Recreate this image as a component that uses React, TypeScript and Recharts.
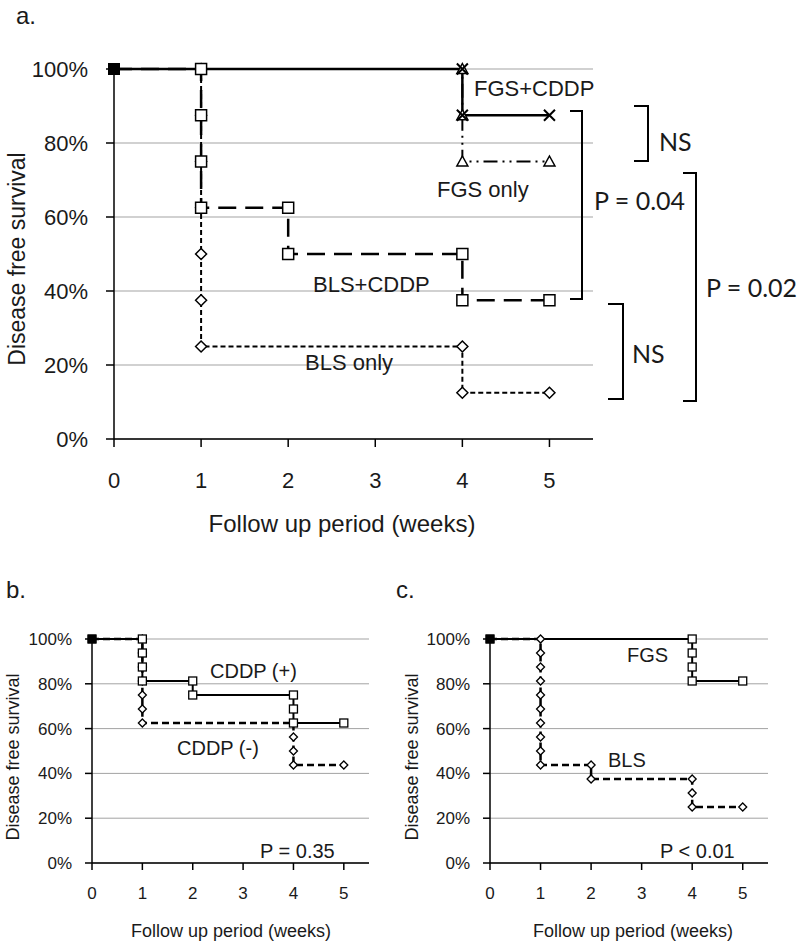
import React from 'react';
import { LineChart, Line, XAxis, YAxis, CartesianGrid } from 'recharts';

// ---------- Panel a data ----------
const weeksFgsCddp = [0, 4, 4, 5];
const survFgsCddp = [100, 100, 87.5, 87.5];
const weeksFgsOnly = [0, 4, 4, 4, 5];
const survFgsOnly = [100, 100, 87.5, 75, 75];
const weeksBlsCddp = [0, 1, 1, 1, 1, 2, 2, 4, 4, 5];
const survBlsCddp = [100, 100, 87.5, 75, 62.5, 62.5, 50, 50, 37.5, 37.5];
const weeksBlsOnly = [0, 1, 1, 1, 1, 1, 1, 1, 4, 4, 5];
const survBlsOnly = [100, 100, 87.5, 75, 62.5, 50, 37.5, 25, 25, 12.5, 12.5];

// ---------- Panel b data ----------
const weeksCddpPlus = [0, 1, 1, 1, 1, 2, 2, 4, 4, 4, 5];
const survCddpPlus = [100, 100, 93.75, 87.5, 81.25, 81.25, 75, 75, 68.75, 62.5, 62.5];
const weeksCddpMinus = [0, 1, 1, 1, 1, 1, 1, 1, 4, 4, 4, 4, 5];
const survCddpMinus = [100, 100, 93.75, 87.5, 81.25, 75, 68.75, 62.5, 62.5, 56.25, 50, 43.75, 43.75];

// ---------- Panel c data ----------
const weeksFgs = [0, 4, 4, 4, 4, 5];
const survFgs = [100, 100, 93.75, 87.5, 81.25, 81.25];
const weeksBls = [0, 1, 1, 1, 1, 1, 1, 1, 1, 1, 1, 2, 2, 4, 4, 4, 5];
const survBls = [100, 100, 93.75, 87.5, 81.25, 75, 68.75, 62.5, 56.25, 50, 43.75, 43.75, 37.5, 37.5, 31.25, 25, 25];

// ---------- Axes ----------
const xTicks = [0, 1, 2, 3, 4, 5];
const yTicks = [0, 20, 40, 60, 80, 100];
const xDomain: [number, number] = [0, 5.5];
const yDomain: [number, number] = [0, 100];

const ARIAL = '"Liberation Sans", Arial, sans-serif';
const CALIBRI = 'Lato, "Open Sans", sans-serif';
const INK = '#1a1a1a';

type MarkerKind = 'square' | 'diamond' | 'triangle' | 'cross';

interface Series {
  name: string;
  weeks: number[];
  surv: number[];
  dash?: string;
  width: number;
  marker: MarkerKind;
}

const toPoints = (w: number[], s: number[]) => w.map((x, i) => ({ w: x, s: s[i] }));

const makeDot = (kind: MarkerKind, size: number, sw: number) => (props: any) => {
  const { cx, cy, index, payload } = props;
  const key = `d-${index}`;
  if (cx == null || cy == null || isNaN(cx) || isNaN(cy)) return <g key={key} />;
  const h = size / 2;
  if (payload && payload.w === 0) {
    return <rect key={key} x={cx - h} y={cy - h} width={size} height={size} fill="#000" stroke="#000" strokeWidth={1} />;
  }
  switch (kind) {
    case 'square':
      return <rect key={key} x={cx - h} y={cy - h} width={size} height={size} fill="#fff" stroke="#000" strokeWidth={sw} />;
    case 'diamond':
      return (
        <path key={key} d={`M${cx},${cy - h} L${cx + h},${cy} L${cx},${cy + h} L${cx - h},${cy} Z`} fill="#fff" stroke="#000" strokeWidth={sw} />
      );
    case 'triangle':
      return (
        <path key={key} d={`M${cx},${cy - h} L${cx + h},${cy + h * 0.8} L${cx - h},${cy + h * 0.8} Z`} fill="#fff" stroke="#000" strokeWidth={sw} />
      );
    case 'cross':
    default:
      return (
        <path key={key} d={`M${cx - h},${cy - h} L${cx + h},${cy + h} M${cx + h},${cy - h} L${cx - h},${cy + h}`} stroke="#000" strokeWidth={sw + 0.5} fill="none" />
      );
  }
};

interface PanelProps {
  left: number;
  top: number;
  width: number;
  height: number;
  margin: { top: number; right: number; bottom: number; left: number };
  series: Series[];
  fontSize: number;
  yAxisWidth: number;
  xAxisHeight: number;
  tickSize: number;
  xTickMargin: number;
  yTickMargin: number;
  markerSize: number;
  markerStroke: number;
}

function KMPanel(p: PanelProps) {
  const tickStyle = { fontSize: p.fontSize, fill: INK, fontFamily: ARIAL };
  return (
    <div style={{ position: 'absolute', left: p.left, top: p.top, width: p.width, height: p.height }}>
      <LineChart width={p.width} height={p.height} margin={p.margin}>
        <CartesianGrid horizontal vertical={false} stroke="#a3a3a3" strokeWidth={1} />
        <XAxis
          type="number"
          dataKey="w"
          domain={xDomain}
          ticks={xTicks}
          interval={0}
          height={p.xAxisHeight}
          tickSize={p.tickSize}
          tickMargin={p.xTickMargin}
          tick={tickStyle}
          axisLine={{ stroke: '#000', strokeWidth: 1.5 }}
          tickLine={{ stroke: '#000', strokeWidth: 1.5 }}
        />
        <YAxis
          type="number"
          domain={yDomain}
          ticks={yTicks}
          interval={0}
          width={p.yAxisWidth}
          tickSize={p.tickSize}
          tickMargin={p.yTickMargin}
          tick={tickStyle}
          tickFormatter={(v: number) => `${v}%`}
          axisLine={{ stroke: '#000', strokeWidth: 1.5 }}
          tickLine={{ stroke: '#000', strokeWidth: 1.5 }}
        />
        {p.series.map((s) => (
          <Line
            key={s.name}
            name={s.name}
            type="linear"
            data={toPoints(s.weeks, s.surv)}
            dataKey="s"
            stroke="#000"
            strokeWidth={s.width}
            strokeDasharray={s.dash}
            dot={makeDot(s.marker, p.markerSize, p.markerStroke)}
            activeDot={false}
            isAnimationActive={false}
            legendType="none"
          />
        ))}
      </LineChart>
    </div>
  );
}

const seriesA: Series[] = [
  { name: 'BLS only', weeks: weeksBlsOnly, surv: survBlsOnly, dash: '5 3', width: 2, marker: 'diamond' },
  { name: 'BLS+CDDP', weeks: weeksBlsCddp, surv: survBlsCddp, dash: '18 9', width: 2.5, marker: 'square' },
  { name: 'FGS only', weeks: weeksFgsOnly, surv: survFgsOnly, dash: '14 5 2 5 2 5', width: 2, marker: 'triangle' },
  { name: 'FGS+CDDP', weeks: weeksFgsCddp, surv: survFgsCddp, width: 2.5, marker: 'cross' },
];

const seriesB: Series[] = [
  { name: 'CDDP (-)', weeks: weeksCddpMinus, surv: survCddpMinus, dash: '7 4', width: 2.5, marker: 'diamond' },
  { name: 'CDDP (+)', weeks: weeksCddpPlus, surv: survCddpPlus, width: 2, marker: 'square' },
];

const seriesC: Series[] = [
  { name: 'BLS', weeks: weeksBls, surv: survBls, dash: '7 4', width: 2.5, marker: 'diamond' },
  { name: 'FGS', weeks: weeksFgs, surv: survFgs, width: 2, marker: 'square' },
];

export default function App() {
  return (
    <div style={{ position: 'absolute', left: 0, top: 0, width: 800, height: 946, background: '#fff', overflow: 'hidden' }}>
      <KMPanel
        left={0}
        top={0}
        width={800}
        height={560}
        margin={{ top: 69, right: 207, bottom: 81, left: 14 }}
        series={seriesA}
        fontSize={22}
        yAxisWidth={100}
        xAxisHeight={40}
        tickSize={8}
        xTickMargin={25}
        yTickMargin={18}
        markerSize={11}
        markerStroke={1.5}
      />
      <KMPanel
        left={0}
        top={560}
        width={400}
        height={386}
        margin={{ top: 79, right: 31, bottom: 53, left: 12 }}
        series={seriesB}
        fontSize={17}
        yAxisWidth={80}
        xAxisHeight={30}
        tickSize={7}
        xTickMargin={17}
        yTickMargin={13}
        markerSize={8}
        markerStroke={1.3}
      />
      <KMPanel
        left={400}
        top={560}
        width={400}
        height={386}
        margin={{ top: 79, right: 32, bottom: 53, left: 10 }}
        series={seriesC}
        fontSize={17}
        yAxisWidth={80}
        xAxisHeight={30}
        tickSize={7}
        xTickMargin={17}
        yTickMargin={13}
        markerSize={8}
        markerStroke={1.3}
      />
      <svg width={800} height={946} style={{ position: 'absolute', left: 0, top: 0, pointerEvents: 'none' }}>
        <g fontFamily={ARIAL} fill={INK}>
          <text x={16} y={24} fontSize={24}>a.</text>
          <text x={6} y={598} fontSize={24}>b.</text>
          <text x={396} y={598} fontSize={24}>c.</text>

          <text x={25} y={259} fontSize={23} textAnchor="middle" transform="rotate(-90 25 259)">Disease free survival</text>
          <text x={342} y={532} fontSize={24} textAnchor="middle">Follow up period (weeks)</text>

          <text x={474} y={96} fontSize={22}>FGS+CDDP</text>
          <text x={437} y={197} fontSize={22}>FGS only</text>
          <text x={313} y={292} fontSize={22}>BLS+CDDP</text>
          <text x={305} y={370} fontSize={22}>BLS only</text>

          <text x={19} y={757} fontSize={18} textAnchor="middle" transform="rotate(-90 19 757)">Disease free survival</text>
          <text x={231} y={937} fontSize={18} textAnchor="middle">Follow up period (weeks)</text>
          <text x={210} y={678} fontSize={20}>CDDP (+)</text>
          <text x={177} y={755} fontSize={20}>CDDP (-)</text>
          <text x={260} y={858} fontSize={20}>P = 0.35</text>

          <text x={418} y={757} fontSize={18} textAnchor="middle" transform="rotate(-90 418 757)">Disease free survival</text>
          <text x={633} y={937} fontSize={18} textAnchor="middle">Follow up period (weeks)</text>
          <text x={627} y={662} fontSize={20}>FGS</text>
          <text x={608} y={767} fontSize={20}>BLS</text>
          <text x={660} y={858} fontSize={20}>P &lt; 0.01</text>
        </g>
        <g stroke="#000" strokeWidth={2} fill="none">
          <path d="M634,106 H648 V161 H634" />
          <path d="M570,111 H582 V299 H570" />
          <path d="M608,304 H623 V399 H608" />
          <path d="M683,173 H696 V401 H683" />
        </g>
        <g fontFamily={CALIBRI} fill={INK} fontSize={25}>
          <text x={659} y={151}>NS</text>
          <text x={594} y={210}>P = 0.04</text>
          <text x={632} y={363}>NS</text>
          <text x={706} y={297}>P = 0.02</text>
        </g>
      </svg>
    </div>
  );
}
